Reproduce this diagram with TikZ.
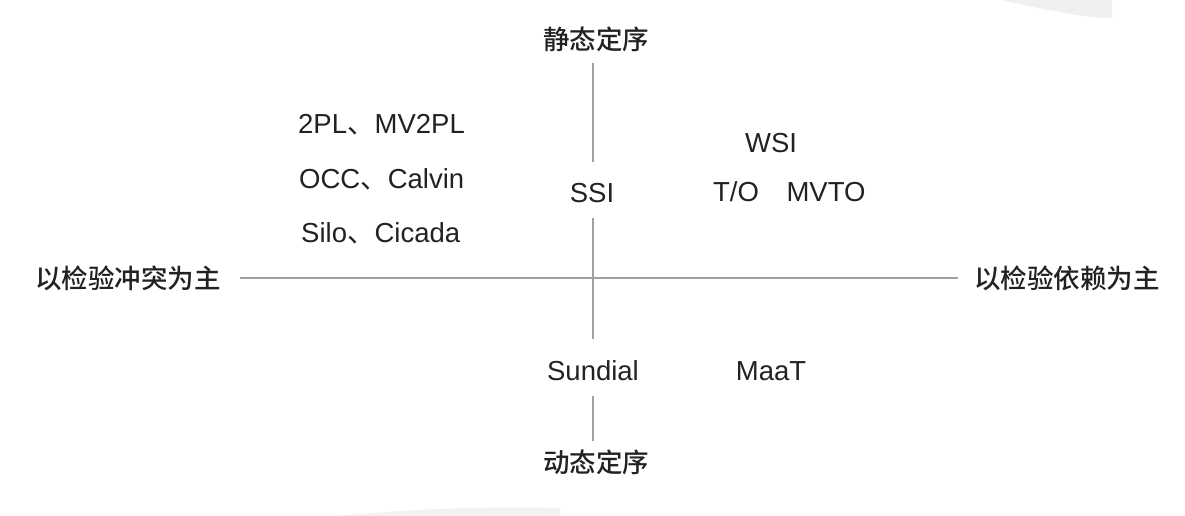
\documentclass[tikz,border=0pt]{standalone}
\usepackage{fontspec}
\setmainfont{Liberation Sans}
\newfontfamily\cjk{Noto Sans CJK SC}
\newfontfamily\cjkm{Noto Sans CJK SC}[UprightFont=* Medium]
\definecolor{txt}{HTML}{222222}
\definecolor{axis}{HTML}{A0A0A0}
\begin{document}
\begin{tikzpicture}[x=1pt,y=-1pt,
  lat/.style={inner sep=0pt,anchor=base,text=txt,font=\fontsize{27.5}{33}\selectfont},
  latw/.style={lat,anchor=base west},
  cj/.style={inner sep=0pt,anchor=base,text=txt,font=\cjkm\fontsize{26.5}{32}\selectfont},
  ax/.style={draw=axis,line width=1.6pt}]
\useasboundingbox (0,0) rectangle (1185,516);
% faint shadows from the original screenshot
\fill[black!6] (1000,0) .. controls (1040,8) and (1080,18) .. (1112,18) -- (1112,0) -- cycle;
\fill[black!5] (340,516) .. controls (420,508) and (500,506) .. (560,508) -- (560,516) -- cycle;
% labels
\node[cj] (top) at (596,50) {静态定序};
\node[cj] (bot) at (596,472) {动态定序};
\node[cj] (left) at (128,288) {以检验冲突为主};
\node[cj] (right) at (1067,288) {以检验依赖为主};
% axis end points
\coordinate (vt) at (593,63);
\coordinate (vb) at (593,441);
\coordinate (hl) at (240,278);
\coordinate (hr) at (958,278);
\node[lat] (ssi) at (592,202) {SSI};
\node[lat] (sun) at (593,380) {Sundial};
\coordinate (v1) at (593,162);
\coordinate (v2) at (593,218);
\coordinate (v3) at (593,339);
\coordinate (v4) at (593,396);
\draw[ax] (vt) -- (v1);
\draw[ax] (v2) -- (v3);
\draw[ax] (v4) -- (vb);
\draw[ax] (hl) -- (hr);
% left block
\node[latw] (a) at (298,133) {2PL{\cjk 、}MV2PL};
\node[latw] (b) at (299,188) {OCC{\cjk 、}Calvin};
\node[latw] (c) at (301,242) {Silo{\cjk 、}Cicada};
% right block
\node[lat] (wsi) at (771,152) {WSI};
\node[lat] (to) at (736,201) {T/O};
\node[lat] (mvto) at (826,201) {MVTO};
\node[lat] (maat) at (771,380) {MaaT};
\end{tikzpicture}
\end{document}
